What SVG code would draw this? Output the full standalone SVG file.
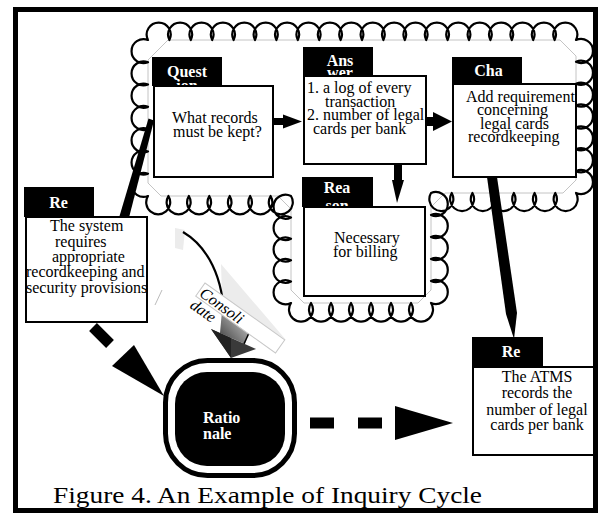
<svg xmlns="http://www.w3.org/2000/svg" width="603" height="521" viewBox="0 0 603 521">
<style>
.box{fill:#fff;stroke:#000;stroke-width:2}
.tab{fill:#000}
.tl{font-family:"Liberation Serif","Times New Roman",serif;font-weight:bold;font-size:16px;fill:#fff}
.tx{font-family:"Liberation Serif","Times New Roman",serif;font-size:16px;fill:#000}
.cloud{fill:none;stroke:#000;stroke-width:2.2;stroke-linejoin:round}
.faint{fill:none;stroke:#c4c4c4;stroke-width:1}
.blk{fill:#000}
.dash{stroke:#000;stroke-width:11;fill:none}
</style>
<defs>
<clipPath id="clipA"><rect x="304" y="76" width="122" height="88"/></clipPath>
<clipPath id="clipC"><rect x="453" y="84" width="122" height="93"/></clipPath>
<linearGradient id="shaftGrad" x1="1" y1="0" x2="0" y2="1">
<stop offset="0" stop-color="#d8d8d8"/>
<stop offset="0.5" stop-color="#8a8a8a"/>
<stop offset="1" stop-color="#3c3c3c"/>
</linearGradient>
</defs>
<rect x="0" y="0" width="603" height="521" fill="#fff"/>
<rect x="15.5" y="9.5" width="580" height="501" fill="none" stroke="#000" stroke-width="5"/>

<g id="cloud">
<polygon class="faint" points="168,40 560,40 576,56 576,180 563,193 445,193 431,207 431,290 418,303 304,303 291,290 291,209 278,196 161,196 148,183 148,60"/>
<path class="cloud" d="M148,40
a12,12 0 1 1 21.4,0 a12,12 0 1 1 21.4,0 a12,12 0 1 1 21.4,0 a12,12 0 1 1 21.4,0 a12,12 0 1 1 21.4,0
a12,12 0 1 1 21.4,0 a12,12 0 1 1 21.4,0 a12,12 0 1 1 21.4,0 a12,12 0 1 1 21.4,0 a12,12 0 1 1 21.4,0
a12,12 0 1 1 21.4,0 a12,12 0 1 1 21.4,0 a12,12 0 1 1 21.4,0 a12,12 0 1 1 21.4,0 a12,12 0 1 1 21.4,0
a12,12 0 1 1 21.4,0 a12,12 0 1 1 21.4,0 a12,12 0 1 1 21.4,0 a12,12 0 1 1 21.4,0 a12,12 0 1 1 21.4,0
a12,12 0 1 1 0,21.857 a12,12 0 1 1 0,21.857 a12,12 0 1 1 0,21.857 a12,12 0 1 1 0,21.857 a12,12 0 1 1 0,21.857 a12,12 0 1 1 0,21.857 a12,12 0 1 1 0,21.857
a12,12 0 1 1 -20.714,0 a12,12 0 1 1 -20.714,0 a12,12 0 1 1 -20.714,0 a12,12 0 1 1 -20.714,0 a12,12 0 1 1 -20.714,0 a12,12 0 1 1 -20.714,0 a12,12 0 1 1 -20.714,0
a12,12 0 1 1 0,22 a12,12 0 1 1 0,22 a12,12 0 1 1 0,22 a12,12 0 1 1 0,22 a12,12 0 1 1 0,22
a12,12 0 1 1 -20,0 a12,12 0 1 1 -20,0 a12,12 0 1 1 -20,0 a12,12 0 1 1 -20,0 a12,12 0 1 1 -20,0 a12,12 0 1 1 -20,0 a12,12 0 1 1 -20,0
a12,12 0 1 1 0,-21.4 a12,12 0 1 1 0,-21.4 a12,12 0 1 1 0,-21.4 a12,12 0 1 1 0,-21.4 a12,12 0 1 1 0,-21.4
a12,12 0 1 1 -20.429,0 a12,12 0 1 1 -20.429,0 a12,12 0 1 1 -20.429,0 a12,12 0 1 1 -20.429,0 a12,12 0 1 1 -20.429,0 a12,12 0 1 1 -20.429,0 a12,12 0 1 1 -20.429,0
a12,12 0 1 1 0,-22.286 a12,12 0 1 1 0,-22.286 a12,12 0 1 1 0,-22.286 a12,12 0 1 1 0,-22.286 a12,12 0 1 1 0,-22.286 a12,12 0 1 1 0,-22.286 a12,12 0 1 1 0,-22.286 Z"/>
</g>

<g id="connectors">
<!-- Question -> Answer -->
<rect class="blk" x="273" y="118" width="12" height="7"/>
<polygon class="blk" points="283,114.5 302,121.5 283,128.5"/>
<!-- Answer -> Change -->
<rect class="blk" x="426" y="117" width="9" height="9"/>
<polygon class="blk" points="433,112 452,121.5 433,131"/>
<!-- Answer -> Reason -->
<rect class="blk" x="394" y="164" width="8" height="17"/>
<polygon class="blk" points="392,180 404,180 397,203"/>
<!-- Requirement -> Question -->
<polygon class="blk" points="118.5,219.5 128.5,219.5 154,120.5 148.5,118.5"/>
<!-- Change -> Result -->
<polygon class="blk" points="487,177 497,177 517,313 514,339 506,314"/>
<!-- Requirement -> Rationale (dashed) -->
<line class="dash" x1="93" y1="327" x2="110" y2="344"/>
<polygon class="blk" points="112,366 134,345 164,396"/>
<!-- Rationale -> Result (dashed) -->
<line class="dash" x1="310" y1="423" x2="395" y2="423" stroke-dasharray="24 24"/>
<polygon class="blk" points="395,406 395,440 453,423"/>
<!-- Consolidate -->
<g id="consolidate">
<polygon points="175,228 185,230 183,250 175,248" fill="#ececec"/>
<polygon points="221,264 286,340 222,296" fill="#ececec"/>
<path d="M183,232 C205,245 226,275 224,330" fill="none" stroke="#000" stroke-width="2.2"/>
<polygon points="222,311 249,332 245,344 220,333" fill="url(#shaftGrad)"/>
<line x1="249" y1="333" x2="243" y2="346" stroke="#000" stroke-width="1.5"/>
<polygon points="211,329 256,349 231,358" fill="#3a3a3a"/>
<polygon points="211,329 231,338 231,358" fill="#222"/>
<line x1="155" y1="305" x2="162" y2="290" stroke="#bbb" stroke-width="1"/>
<g transform="translate(205,283) rotate(35.5)">
<rect x="0" y="0" width="98" height="16" fill="#fff" stroke="#c8c8c8" stroke-width="1"/>
<text class="tx" x="2" y="14" font-style="italic">Consoli</text>
<text class="tx" x="1" y="29" font-style="italic">date</text>
</g>
</g>
</g>

<g id="question">
<rect class="tab" x="152" y="57" width="70" height="29"/>
<text class="tl" x="187" y="76.5" text-anchor="middle">Quest</text>
<text class="tl" x="187" y="90.5" text-anchor="middle">ion</text>
<rect class="box" x="154" y="86" width="119" height="91"/>
<text class="tx" x="172" y="122.5">What records</text>
<text class="tx" x="173" y="136.5">must be kept?</text>
</g>

<g id="answer">
<rect class="tab" x="303" y="47" width="70" height="29"/>
<text class="tl" x="340" y="65.5" text-anchor="middle">Ans</text>
<text class="tl" x="340" y="78" text-anchor="middle">wer</text>
<rect class="box" x="304" y="76" width="122" height="88"/>
<g clip-path="url(#clipA)">
<text class="tx" x="307" y="93">1. a log of every</text>
<text class="tx" x="325" y="106.5">transaction</text>
<text class="tx" x="307" y="120">2. number of legal</text>
<text class="tx" x="313" y="133.5">cards per bank</text>
</g>
</g>

<g id="change">
<rect class="tab" x="452" y="57" width="70" height="27"/>
<text class="tl" x="488.5" y="76" text-anchor="middle">Cha</text>
<rect class="box" x="453" y="84" width="123" height="93"/>
<g clip-path="url(#clipC)">
<text class="tx" x="466" y="101.5">Add requirement</text>
<text class="tx" x="477" y="115">concerning</text>
<text class="tx" x="480" y="128.5">legal cards</text>
<text class="tx" x="468" y="141.5">recordkeeping</text>
</g>
</g>

<g id="reason">
<rect class="tab" x="302" y="177" width="71" height="30"/>
<text class="tl" x="337" y="193" text-anchor="middle">Rea</text>
<text class="tl" x="337" y="211" text-anchor="middle">son</text>
<rect class="box" x="304" y="207" width="121" height="89"/>
<text class="tx" x="334" y="243">Necessary</text>
<text class="tx" x="333" y="257">for billing</text>
</g>

<g id="requirement">
<rect class="tab" x="24" y="187" width="70" height="30"/>
<text class="tl" x="58.5" y="208" text-anchor="middle">Re</text>
<rect class="box" x="26" y="217" width="121" height="105"/>
<text class="tx" x="50" y="231">The system</text>
<text class="tx" x="55" y="246.5">requires</text>
<text class="tx" x="52" y="262">appropriate</text>
<text class="tx" x="26" y="277">recordkeeping and</text>
<text class="tx" x="26" y="293">security provisions</text>
</g>

<g id="result">
<rect class="tab" x="472" y="337" width="71" height="30"/>
<text class="tl" x="511" y="356.5" text-anchor="middle">Re</text>
<rect class="box" x="473" y="367" width="121" height="88"/>
<text class="tx" x="537" y="381.5" text-anchor="middle">The ATMS</text>
<text class="tx" x="537" y="398" text-anchor="middle">records the</text>
<text class="tx" x="537" y="414.5" text-anchor="middle">number of legal</text>
<text class="tx" x="537" y="430" text-anchor="middle">cards per bank</text>
</g>

<g id="rationale">
<rect x="165.5" y="360.5" width="129" height="115" rx="42" ry="42" fill="#fff" stroke="#000" stroke-width="5"/>
<rect x="175" y="372" width="110" height="94" rx="32" ry="32" fill="#000"/>
<text class="tl" x="203" y="423">Ratio</text>
<text class="tl" x="203" y="438.5">nale</text>
</g>

<text class="tx" x="53" y="503" style="font-size:24px" textLength="429" lengthAdjust="spacingAndGlyphs">Figure 4. An Example of Inquiry Cycle</text>
</svg>
